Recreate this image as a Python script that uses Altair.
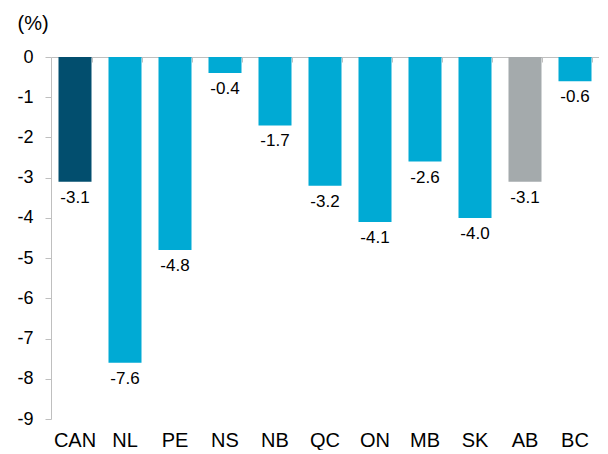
import altair as alt
import pandas as pd

regions = ["CAN", "NL", "PE", "NS", "NB", "QC", "ON", "MB", "SK", "AB", "BC"]
values = [-3.1, -7.6, -4.8, -0.4, -1.7, -3.2, -4.1, -2.6, -4.0, -3.1, -0.6]
groups = ["Canada", "Province", "Province", "Province", "Province", "Province",
          "Province", "Province", "Province", "Alberta", "Province"]
group_names = ["Canada", "Province", "Alberta"]
group_colors = ["#024e6e", "#00aad4", "#a4aaac"]
y_ticks = [0, -1, -2, -3, -4, -5, -6, -7, -8, -9]

df = pd.DataFrame({"region": regions, "value": values, "group": groups})
df["label"] = [f"{v:.1f}" for v in values]

FONT = "Liberation Sans"
H = 362

x_main = alt.X("region:N", sort=regions, title=None,
               scale=alt.Scale(paddingInner=0.34, paddingOuter=0.15),
               axis=alt.Axis(orient="bottom", domain=False, ticks=False, labelAngle=0,
                             labelFontSize=20, labelFont=FONT, labelColor="#000000",
                             labelPadding=11, grid=False))
y_enc = alt.Y("value:Q", title="(%)",
              scale=alt.Scale(domain=[-9, 0], nice=False),
              axis=alt.Axis(values=y_ticks, labelExpr="'' + datum.value",
                            labelFontSize=18, labelFont=FONT, labelColor="#000000",
                            labelPadding=12, tickSize=6, tickColor="#bfbfbf",
                            domainColor="#bfbfbf", grid=False,
                            titleAngle=0, titleFontSize=20, titleFont=FONT,
                            titleFontWeight="normal", titleColor="#000000",
                            titleX=-34, titleY=-44, titleAlign="left",
                            titleBaseline="top"))

bars = alt.Chart(df).mark_bar().encode(
    x=x_main,
    y=y_enc,
    color=alt.Color("group:N", scale=alt.Scale(domain=group_names, range=group_colors), legend=None),
)

labels = alt.Chart(df).mark_text(baseline="top", dy=8, fontSize=17, font=FONT, color="#000000").encode(
    x=alt.X("region:N", sort=regions, axis=None),
    y=alt.Y("value:Q"),
    text="label:N",
)

zero_axis = alt.Chart(df).mark_text(opacity=0).encode(
    x=alt.X("region:N", sort=regions, title=None,
            axis=alt.Axis(orient="bottom", offset=-H, labels=False, domain=True, ticks=True,
                          tickBand="extent", tickSize=5, tickColor="#bfbfbf",
                          domainColor="#bfbfbf", grid=False)),
    y=alt.Y("value:Q"),
    text="label:N",
)

chart = alt.layer(bars, labels, zero_axis).resolve_axis(x="independent").properties(
    width=548, height=H,
    padding={"left": 8, "top": 5, "right": 0, "bottom": 0},
).configure_view(stroke=None)

chart.save("out.html", embed_options={"renderer": "svg", "actions": False})
